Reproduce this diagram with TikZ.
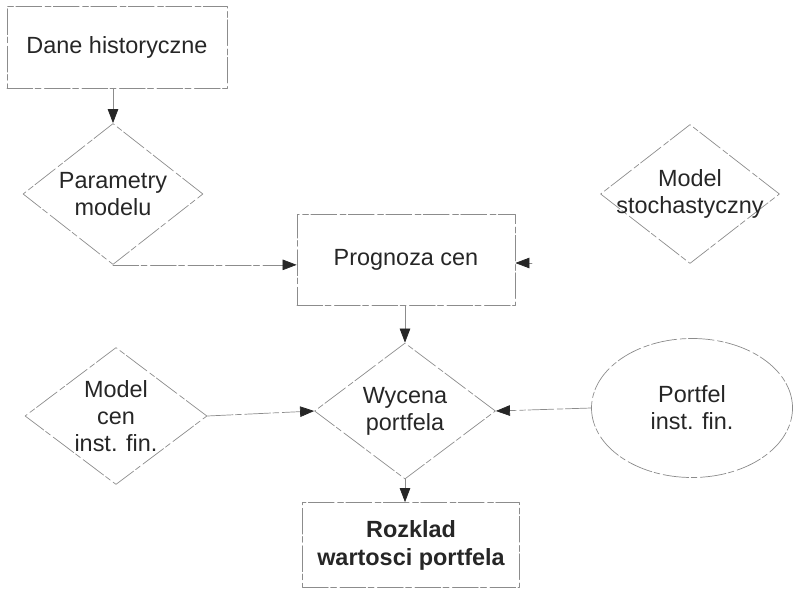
\documentclass[tikz,border=0pt]{standalone}
\usepackage{fontspec}
\setmainfont{Liberation Sans}
\usetikzlibrary{shapes.geometric,arrows.meta}
\begin{document}
\begin{tikzpicture}[x=0.03cm,y=-0.03cm,line join=round,line cap=round,
		font=\fontsize{20}{23}\selectfont,text=black!85,
		ln/.style={draw=black!45,line width=.6pt,dash pattern=on 22pt off 2pt on 5pt off 3pt},
		box/.style={ln,rectangle,align=center,inner sep=0pt},
		romb/.style={ln,diamond,align=center,inner sep=-1.5em},
		strz/.style={ln,-{Triangle[length=12pt,width=9pt,color=black!85]}}]
	\useasboundingbox (0,0) rectangle (794,595);
	%bloki
	\node[box,minimum width=6.6cm,minimum height=2.46cm] (hist) at (117,47) {Dane historyczne};
	\node[romb,minimum width=5.4cm,minimum height=4.23cm] (param) at (113,194) {Parametry\\modelu};
	\node[box,minimum width=6.54cm,minimum height=2.73cm] (prog) at (406,260) {Prognoza cen};
	\node[romb,minimum width=5.37cm,minimum height=4.17cm] (stoch) at (690,194) {Model\\stochastyczny};
	\node[romb,minimum width=5.46cm,minimum height=4.11cm] (cen) at (116,416) {Model\\cen\\inst. fin.};
	\node[romb,minimum width=5.43cm,minimum height=4.08cm] (wyc) at (405,411) {Wycena\\portfela};
	\node[ln,ellipse,align=center,inner sep=0pt,minimum width=6.03cm,minimum height=4.17cm] (portf) at (692,408) {Portfel\\inst. fin.};
	\node[box,minimum width=6.51cm,minimum height=2.55cm,font=\fontsize{20}{24}\selectfont\bfseries] (rozk) at (411,545) {Rozklad\\wartosci portfela};
	\coordinate (wej) at (532,263);
	%strzalki
	\draw[strz] (param.north |- hist.south)--(param.north);
	\draw[strz] (param.south)--(param.south -| prog.west);
	\draw[strz] (wej)--(wej -| prog.east);
	\draw[strz] (wyc.north |- prog.south)--(wyc.north);
	\draw[strz] (cen.east)--(wyc.west);
	\draw[strz] (portf.west)--(wyc.east);
	\draw[strz] (wyc.south)--(wyc.south |- rozk.north);
\end{tikzpicture}
\end{document}
